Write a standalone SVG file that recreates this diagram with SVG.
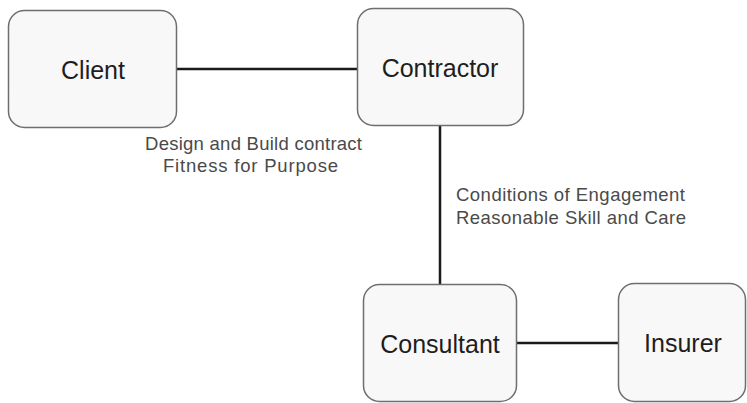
<svg xmlns="http://www.w3.org/2000/svg" width="747" height="403" viewBox="0 0 747 403">
  <style>
    .box { fill: #f8f8f8; stroke: #6e6e6e; stroke-width: 1.5; }
    .name { font-family: "Liberation Sans", Arial, sans-serif; font-size: 25px; fill: #1e1e1e; text-anchor: middle; }
    .note { font-family: "Liberation Sans", Arial, sans-serif; font-size: 18.5px; fill: #4a4a4a; }
    .link { stroke: #1a1a1a; stroke-width: 2.5; fill: none; }
  </style>
  <rect width="747" height="403" fill="#ffffff"/>

  <g id="connectors">
    <line class="link" x1="176" y1="69" x2="357" y2="69"/>
    <line class="link" x1="440" y1="125" x2="440" y2="284"/>
    <line class="link" x1="516" y1="343" x2="618" y2="343"/>
  </g>

  <g id="client">
    <rect class="box" x="8.5" y="10.5" width="168" height="117" rx="16"/>
    <text class="name" x="93" y="79">Client</text>
  </g>

  <g id="contractor">
    <rect class="box" x="357.5" y="8.5" width="166" height="117" rx="16"/>
    <text class="name" x="440" y="77">Contractor</text>
  </g>

  <g id="consultant">
    <rect class="box" x="363.5" y="284.5" width="153" height="117" rx="16"/>
    <text class="name" x="440" y="353">Consultant</text>
  </g>

  <g id="insurer">
    <rect class="box" x="618.5" y="283.5" width="127" height="118" rx="16"/>
    <text class="name" x="683" y="352">Insurer</text>
  </g>

  <g id="labels">
    <text class="note" x="145" y="150" textLength="217">Design and Build contract</text>
    <text class="note" x="163" y="172" textLength="175">Fitness for Purpose</text>
    <text class="note" x="456" y="201" textLength="229">Conditions of Engagement</text>
    <text class="note" x="456" y="224" textLength="230">Reasonable Skill and Care</text>
  </g>
</svg>
